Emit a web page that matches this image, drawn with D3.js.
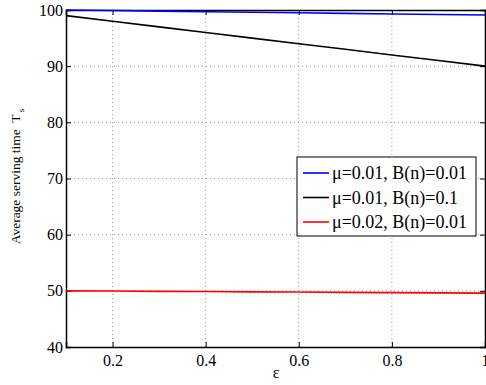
<!DOCTYPE html>
<html>
<head>
<meta charset="utf-8">
<script src="https://cdn.jsdelivr.net/npm/d3@7"></script>
<style>
  body { margin: 0; background: #fff; }
  svg text { font-family: "Liberation Serif", "Times New Roman", serif; fill: #000; }
</style>
</head>
<body>
<div id="chart"></div>
<script>
// data
const epsilon = [0.1, 0.2, 0.3, 0.4, 0.5, 0.6, 0.7, 0.8, 0.9, 1.0];
const blueVals = [100, 99.9, 99.8, 99.7, 99.6, 99.5, 99.4, 99.3, 99.2, 99.1];
const blackVals = [99, 98, 97, 96, 95, 94, 93, 92, 91, 90];
const redVals = [50, 49.96, 49.91, 49.87, 49.82, 49.78, 49.73, 49.69, 49.64, 49.6];
const seriesNames = ["\u03bc=0.01, B(n)=0.01", "\u03bc=0.01, B(n)=0.1", "\u03bc=0.02, B(n)=0.01"];
const seriesColors = ["#0000ff", "#000000", "#ff0000"];
const xTicks = [0.2, 0.4, 0.6, 0.8, 1];
const yTicks = [40, 50, 60, 70, 80, 90, 100];

const width = 486, height = 385;
const margin = { top: 10, right: 1, bottom: 38, left: 66 };

const svg = d3.select('#chart').append('svg')
  .attr('width', width)
  .attr('height', height);

const x = d3.scaleLinear().domain([0.1, 1]).range([margin.left, width - margin.right]);
const y = d3.scaleLinear().domain([40, 100]).range([height - margin.bottom, margin.top]);

// grid
const grid = svg.append('g');
grid.selectAll('.gx').data(xTicks.filter(d => d < 1)).enter().append('line')
  .attr('x1', d => x(d)).attr('x2', d => x(d))
  .attr('y1', y(40)).attr('y2', y(100))
  .attr('stroke', '#999').attr('stroke-width', 1)
  .attr('stroke-dasharray', '1,3');
grid.selectAll('.gy').data(yTicks.filter(d => d > 40 && d < 100)).enter().append('line')
  .attr('x1', x(0.1)).attr('x2', x(1))
  .attr('y1', d => y(d)).attr('y2', d => y(d))
  .attr('stroke', '#999').attr('stroke-width', 1)
  .attr('stroke-dasharray', '1,3');

// axes
const xAxis = svg.append('g')
  .attr('transform', `translate(0,${y(40)})`)
  .call(d3.axisBottom(x).tickValues(xTicks).tickSize(-5).tickPadding(8).tickFormat(d3.format('~g')));
const yAxis = svg.append('g')
  .attr('transform', `translate(${x(0.1)},0)`)
  .call(d3.axisLeft(y).tickValues(yTicks).tickSize(-5).tickPadding(3));
const xTop = svg.append('g')
  .attr('transform', `translate(0,${y(100)})`)
  .call(d3.axisTop(x).tickValues(xTicks).tickSize(-5).tickFormat(''));
const yRight = svg.append('g')
  .attr('transform', `translate(${x(1)},0)`)
  .call(d3.axisRight(y).tickValues(yTicks).tickSize(-5).tickFormat(''));

[xAxis, yAxis, xTop, yRight].forEach(a => {
  a.attr('font-family', '"Liberation Serif", serif').attr('font-size', 16);
  a.select('.domain').attr('stroke', '#000').attr('stroke-width', 1.5);
  a.selectAll('.tick line').attr('stroke', '#000');
  a.selectAll('text').attr('fill', '#000');
});

// lines
const line = d3.line().x((d, i) => x(epsilon[i])).y(d => y(d));
[blueVals, blackVals, redVals].forEach((vals, i) => {
  svg.append('path')
    .datum(vals)
    .attr('d', line)
    .attr('fill', 'none')
    .attr('stroke', seriesColors[i])
    .attr('stroke-width', 1.6);
});

// axis labels
svg.append('text')
  .attr('x', 276).attr('y', 378)
  .attr('text-anchor', 'middle')
  .style('font-size', '16px')
  .text('\u03b5');

const yl = svg.append('text')
  .attr('transform', `translate(20,${y(70) - 2}) rotate(-90)`)
  .attr('text-anchor', 'middle')
  .style('font-size', '13.5px')
  .style('white-space', 'pre');
yl.append('tspan').text('Average serving time  T');
yl.append('tspan').attr('dy', 4).style('font-size', '9px').text(' s');

// legend
const lg = svg.append('g').attr('transform', 'translate(297,157)');
lg.append('rect')
  .attr('width', 179).attr('height', 79)
  .attr('fill', '#fff').attr('stroke', '#000').attr('stroke-width', 1);
seriesNames.forEach((name, i) => {
  const cy = 16 + i * 24.5;
  lg.append('line')
    .attr('x1', 6).attr('x2', 32)
    .attr('y1', cy).attr('y2', cy)
    .attr('stroke', seriesColors[i]).attr('stroke-width', 1.6);
  lg.append('text')
    .attr('x', 35).attr('y', cy + 6)
    .style('font-size', '18px')
    .text(name);
});
</script>
</body>
</html>
